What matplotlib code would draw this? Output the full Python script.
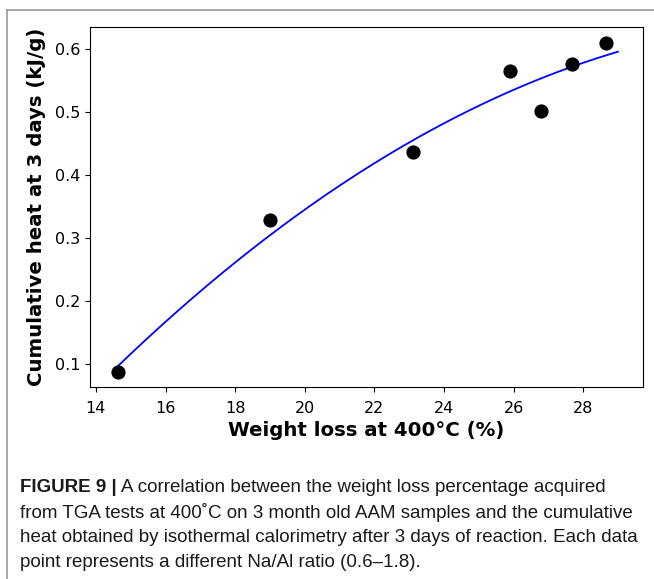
import numpy as np
import matplotlib
matplotlib.use("Agg")
import matplotlib.pyplot as plt
from matplotlib.lines import Line2D

# weight loss at 400 C (%) vs cumulative heat after 3 days (kJ/g)
weight_loss = [14.63, 19.0, 23.1, 25.9, 26.8, 27.68, 28.65]
cum_heat = [0.088, 0.328, 0.436, 0.565, 0.502, 0.576, 0.609]
fit_range = (14.55, 29.0)

caption_lines = [
    "A correlation between the weight loss percentage acquired",
    "from TGA tests at 400\u02daC on 3 month old AAM samples and the cumulative",
    "heat obtained by isothermal calorimetry after 3 days of reaction. Each data",
    "point represents a different Na/Al ratio (0.6\u20131.8).",
]

coef = np.polyfit(weight_loss, cum_heat, 2)
xf = np.linspace(*fit_range, 200)
yf = np.polyval(coef, xf)

fig = plt.figure(figsize=(6.54, 5.79), dpi=100)
ax = fig.add_axes([90 / 654, 1 - 387 / 579, 553 / 654, 360 / 579])
ax.plot(xf, yf, color="blue", lw=1.3)
ax.scatter(weight_loss, cum_heat, s=85, color="black", zorder=3)
ax.set_xlim(13.83, 29.72)
ax.set_ylim(0.0635, 0.635)
ax.set_xticks(np.arange(14, 29, 2))
ax.set_yticks([0.1, 0.2, 0.3, 0.4, 0.5, 0.6])
ax.tick_params(labelsize=11.5)
ax.tick_params(axis="x", pad=6.5)
ax.set_xlabel("Weight loss at 400\u00b0C (%)", fontsize=14.2, fontweight="bold", labelpad=4)
ax.set_ylabel("Cumulative heat at 3 days (kJ/g)", fontsize=14.2, fontweight="bold", labelpad=6)

# grey frame of the page
fig.add_artist(Line2D([7 / 654, 1], [1 - 10 / 579] * 2, color="#999999", lw=1.2))
fig.add_artist(Line2D([7 / 654] * 2, [0, 1 - 10 / 579], color="#999999", lw=1.2))

cap_font = dict(family="Liberation Sans", fontsize=13.5, color="#1a1a1a")
y0 = 1 - 487 / 579
t = fig.text(20 / 654, y0, "FIGURE 9 |", fontweight="bold", va="center", **cap_font)
fig.canvas.draw()
bb = t.get_window_extent()
fig.text(bb.x1 / 654 + 0.006, y0, caption_lines[0], va="center", **cap_font)
for i, line in enumerate(caption_lines[1:], start=1):
    fig.text(20 / 654, y0 - i * 25.3 / 579, line, va="center", **cap_font)

fig.savefig("out.png", dpi=100)
